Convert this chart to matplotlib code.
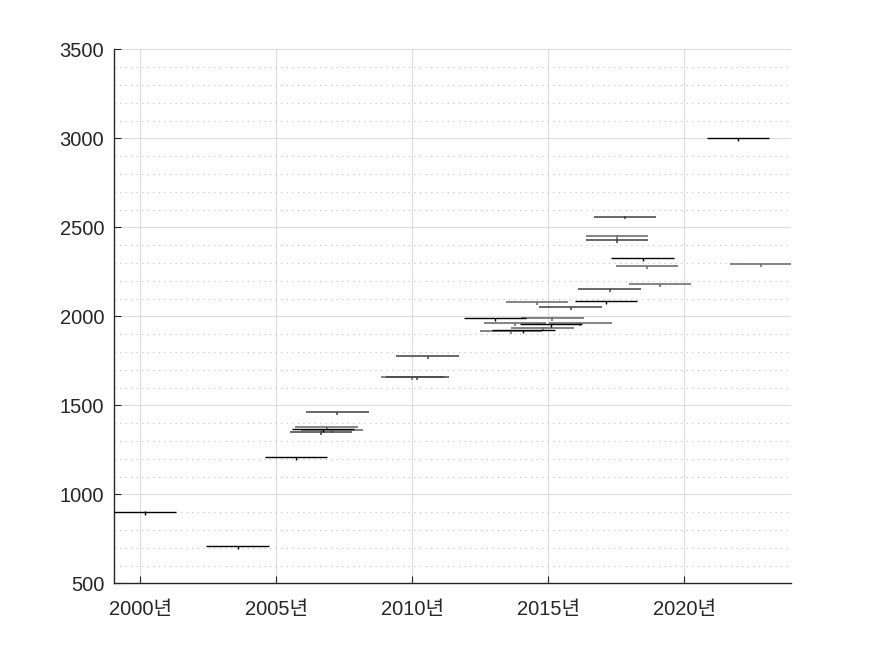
import matplotlib
matplotlib.use("Agg")
import matplotlib.pyplot as plt
from matplotlib.ticker import MultipleLocator, FixedLocator
import numpy as np

plt.rcParams['font.family'] = ['Liberation Sans', 'Noto Sans CJK KR', 'DejaVu Sans']

# Data (center year, value)
black_years = [2000.17, 2003.58, 2005.72, 2006.71, 2017.12, 2013.03, 2015.09, 2014.08,
               2018.47, 2021.97]
black_values = [902, 708, 1208, 1367, 2084, 1989, 1955, 1923, 2326, 3000]

dark_years = [2007.24, 2006.64, 2010.56, 2010.18, 2015.82, 2017.82, 2017.52, 2017.25]
dark_values = [1462, 1352, 1775, 1659, 2050, 2560, 2430, 2153]

gray_years = [2006.85, 2007.05, 2010.00, 2014.58, 2015.15, 2013.78, 2016.18, 2014.79,
              2013.62, 2017.53, 2018.62, 2019.10, 2022.81]
gray_values = [1378, 1362, 1661, 2080, 1992, 1961, 1961, 1936, 1919, 2453, 2283, 2182, 2294]

half_span_years = 1.15
tick_years = [2000, 2005, 2010, 2015, 2020]
tick_labels = ["2000년", "2005년", "2010년", "2015년", "2020년"]

fig = plt.figure(figsize=(8.75, 6.56), dpi=100)
ax = fig.add_axes([0.1303, 0.1108, 0.7737, 0.8140])

def draw(xs, ys, color, lw):
    xs = np.asarray(xs); ys = np.asarray(ys)
    ax.errorbar(xs, ys, xerr=half_span_years, yerr=[np.full(len(ys), 16.0), np.full(len(ys), 2.0)],
                fmt='none', ecolor=color, elinewidth=lw, capsize=0, zorder=3)

draw(gray_years, gray_values, '#707070', 1.2)
draw(dark_years, dark_values, '#404040', 1.1)
draw(black_years, black_values, '#000000', 1.0)

ax.set_xlim(1999.03, 2023.92)
ax.set_ylim(500, 3500)
ax.xaxis.set_major_locator(FixedLocator(tick_years))
ax.set_xticklabels(tick_labels)
ax.yaxis.set_major_locator(MultipleLocator(500))
ax.yaxis.set_minor_locator(MultipleLocator(100))

ax.grid(True, which='major', color='#dcdcdc', linewidth=0.8, linestyle='-', zorder=0)
ax.grid(True, which='minor', axis='y', color='#bdbdbd', linewidth=0.8, linestyle=(0, (1, 4)), zorder=0)
ax.set_axisbelow(True)

for s in ['top', 'right']:
    ax.spines[s].set_visible(False)
for s in ['left', 'bottom']:
    ax.spines[s].set_color('#262626')
    ax.spines[s].set_linewidth(1.0)

ax.tick_params(axis='both', which='major', direction='in', length=5, width=0.8,
               colors='#262626', labelsize=14.5, labelcolor='#262626')
ax.tick_params(axis='y', which='minor', length=0)
ax.tick_params(axis='y', pad=7)
ax.tick_params(axis='x', pad=12)
ax.tick_params(top=False, right=False)

fig.savefig("out.png", dpi=100, facecolor='white')
